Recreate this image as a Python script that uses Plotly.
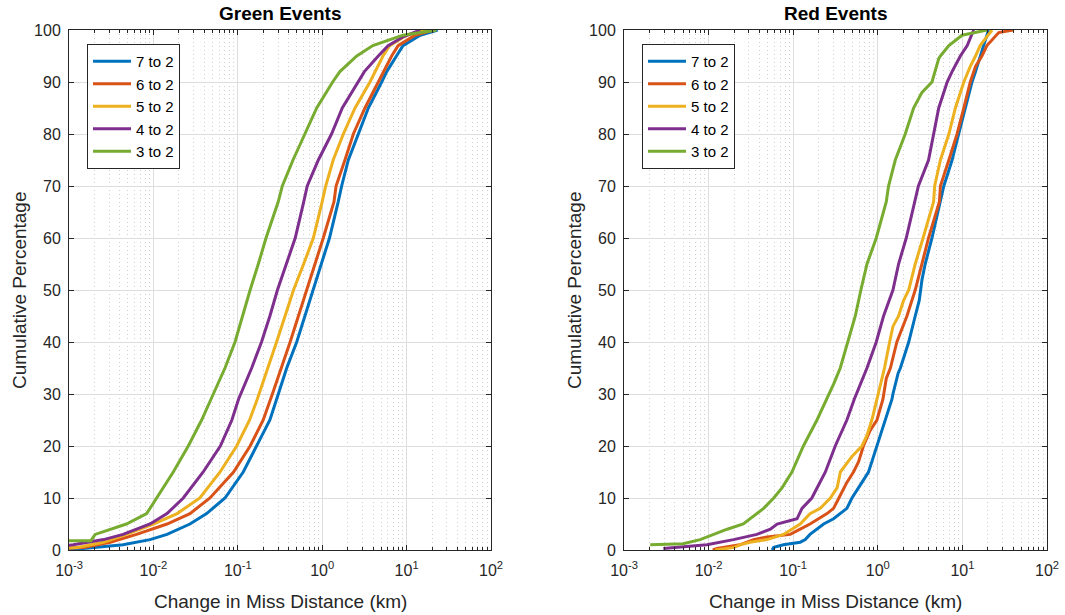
import plotly.graph_objects as go

# ---------------- data (km, cumulative %) ----------------
labels = ["7 to 2", "6 to 2", "5 to 2", "4 to 2", "3 to 2"]
colors = ["#0072BD", "#D95319", "#EDB120", "#7E2F8E", "#77AC30"]

# Green events
g72_x = [0.00079, 0.00148, 0.00437, 0.00912, 0.0145, 0.0271, 0.0427, 0.0705, 0.116, 0.167, 0.240,
         0.302, 0.380, 0.499, 0.625, 0.785, 0.986, 1.22, 1.55, 1.70, 2.04, 2.68, 3.52, 5.07, 5.81,
         7.59, 9.06, 14.5, 23.4]
g72_y = [0.2, 0.3, 1, 2, 3, 5, 7, 10, 15, 20, 25, 30, 35, 40, 45, 50, 55, 60, 67, 70, 75, 80, 85,
         90, 92, 95, 97, 99, 100]
g62_x = [0.00079, 0.00148, 0.00309, 0.00631, 0.0145, 0.0271, 0.0468, 0.0891, 0.140, 0.200, 0.257,
         0.417, 0.655, 1.03, 1.38, 1.46, 1.86, 2.34, 3.21, 4.62, 6.65, 7.94, 12.6, 20.9]
g62_y = [0.3, 0.5, 1.5, 3, 5, 7, 10, 15, 20, 25, 30, 40, 50, 60, 67, 70, 75, 80, 85, 90, 95, 97,
         99, 100]
g52_x = [0.00079, 0.00126, 0.00257, 0.00479, 0.010, 0.0191, 0.0355, 0.0617, 0.097, 0.138, 0.170,
         0.229, 0.288, 0.363, 0.457, 0.603, 0.785, 1.0, 1.10, 1.35, 1.78, 2.45, 3.68, 5.25, 6.31,
         10.0, 17.4]
g52_y = [0.3, 0.5, 1.5, 3, 5, 7, 10, 15, 20, 25, 29, 35, 40, 45, 50, 55, 60, 67, 70, 75, 80, 85,
         90, 95, 97, 99, 100]
g42_x = [0.00079, 0.00112, 0.00257, 0.00437, 0.00912, 0.0145, 0.0226, 0.0389, 0.0621, 0.0851,
         0.102, 0.146, 0.191, 0.240, 0.295, 0.380, 0.479, 0.605, 0.665, 0.90, 1.29, 1.73, 2.69,
         3.16, 4.62, 6.03, 9.12, 14.5]
g42_y = [0.8, 1, 2, 3, 5, 7, 10, 15, 20, 25, 29, 35, 40, 45, 50, 55, 60, 67, 70, 75, 80, 85, 90,
         92, 95, 97, 98.7, 100]
g32_x = [0.00079, 0.00182, 0.00204, 0.00309, 0.00479, 0.00832, 0.011, 0.0172, 0.0259, 0.0373,
         0.0513, 0.0705, 0.0927, 0.113, 0.140, 0.175, 0.216, 0.302, 0.337, 0.451, 0.625, 0.861,
         1.33, 1.62, 2.57, 3.98, 9.06, 22.7]
g32_y = [1.8, 1.8, 3, 4, 5, 7, 10, 15, 20, 25, 30, 35, 40, 45, 50, 55, 60, 67, 70, 75, 80, 85, 90,
         92, 95, 97, 99, 100]

# Red events
r72_x = [0.0562, 0.0589, 0.0767, 0.121, 0.139, 0.158, 0.229, 0.300, 0.431, 0.495, 0.650, 0.776,
         0.851, 0.977, 1.07, 1.23, 1.47, 1.51, 1.74, 1.85, 2.32, 2.77, 3.09, 3.33, 3.63, 4.37,
         5.50, 6.03, 6.61, 7.55, 9.04, 10.8, 13.0, 14.3, 16.2, 17.8, 20.4]
r72_y = [0, 0.5, 1, 1.5, 2, 3, 5, 6, 8, 10, 13, 15, 17, 20, 22, 25, 29, 30, 34, 35, 40, 45, 48,
         52, 55, 60, 67, 70, 72, 75, 80, 85, 90, 92, 95, 97, 100]
r62_x = [0.0112, 0.0126, 0.0234, 0.0339, 0.049, 0.0923, 0.121, 0.158, 0.251, 0.300, 0.347, 0.431,
         0.516, 0.593, 0.676, 0.813, 0.977, 1.15, 1.26, 1.41, 1.68, 2.21, 2.77, 3.33, 3.98, 5.35,
         5.50, 6.92, 8.65, 10.4, 12.4, 14.3, 17.0, 19.5, 23.4, 26.9, 39.8]
r62_y = [0, 0.3, 1, 2, 2.5, 3, 4, 5, 7, 8, 10, 13, 15, 17, 20, 23, 25, 29, 33, 35, 40, 45, 50, 55,
         60, 67, 70, 75, 80, 85, 90, 93, 95, 97, 98.5, 99.5, 100]
r52_x = [0.0120, 0.0200, 0.0234, 0.0309, 0.049, 0.0767, 0.121, 0.158, 0.209, 0.275, 0.331, 0.361,
         0.495, 0.650, 0.741, 0.851, 0.977, 1.20, 1.38, 1.51, 1.76, 2.02, 2.32, 2.77, 3.43, 4.57,
         4.70, 5.50, 6.92, 8.26, 10.4, 12.4, 14.3, 16.2, 22.4]
r52_y = [0, 0.5, 1, 1.5, 2, 3, 5, 7, 8, 10, 12, 15, 18, 20, 22, 25, 29, 35, 40, 43, 45, 48, 50, 55,
         60, 67, 70, 75, 80, 85, 90, 93, 95, 97, 100]
r42_x = [0.00292, 0.00955, 0.0197, 0.0372, 0.0537, 0.0646, 0.111, 0.127, 0.166, 0.240, 0.314,
         0.431, 0.527, 0.745, 0.959, 1.17, 1.51, 1.76, 2.17, 2.75, 3.02, 3.98, 4.57, 5.25, 6.61,
         7.55, 9.46, 11.4, 13.6]
r42_y = [0.3, 1, 2, 3, 4, 5, 6, 8, 10, 15, 20, 25, 29, 35, 40, 45, 50, 55, 60, 67, 70, 75, 80, 85,
         90, 92, 95, 97, 100]
r32_x = [0.00204, 0.0050, 0.00794, 0.0115, 0.0166, 0.0257, 0.0309, 0.0447, 0.0589, 0.0741, 0.0966,
         0.132, 0.191, 0.251, 0.302, 0.360, 0.440, 0.542, 0.631, 0.745, 0.959, 1.26, 1.34, 1.61,
         2.11, 2.65, 3.33, 4.37, 5.25, 5.50, 6.92, 8.26, 9.91, 19.5]
r32_y = [1, 1.2, 2, 3, 4, 5, 6, 8, 10, 12, 15, 20, 25, 29, 32, 35, 40, 45, 50, 55, 60, 67, 70, 75,
         80, 85, 88, 90, 94.5, 95, 97, 98, 99, 100]

green_x = [g72_x, g62_x, g52_x, g42_x, g32_x]
green_y = [g72_y, g62_y, g52_y, g42_y, g32_y]
red_x = [r72_x, r62_x, r52_x, r42_x, r32_x]
red_y = [r72_y, r62_y, r52_y, r42_y, r32_y]

x_ticks = [0.001, 0.01, 0.1, 1, 10, 100]
x_ticktext = ["10<sup>-3</sup>", "10<sup>-2</sup>", "10<sup>-1</sup>", "10<sup>0</sup>",
              "10<sup>1</sup>", "10<sup>2</sup>"]
y_ticks = [0, 10, 20, 30, 40, 50, 60, 70, 80, 90, 100]
minor_vals = [m * d for d in [0.001, 0.01, 0.1, 1, 10] for m in range(2, 10)]

W, H = 1065, 615
FONT = "Liberation Sans, Arial, Helvetica, sans-serif"
AX = "#262626"

fig = go.Figure()
for i in range(5):
    fig.add_trace(go.Scatter(x=green_x[i], y=green_y[i], mode="lines", name=labels[i],
                             line=dict(color=colors[i], width=3), xaxis="x", yaxis="y",
                             legend="legend"))
for i in range(5):
    fig.add_trace(go.Scatter(x=red_x[i], y=red_y[i], mode="lines", name=labels[i],
                             line=dict(color=colors[i], width=3), xaxis="x2", yaxis="y2",
                             legend="legend2"))

left_dom = [69 / W, 491 / W]
right_dom = [624 / W, 1047 / W]
y_dom = [1 - 550 / H, 1 - 30 / H]


def xaxis(dom, anchor):
    return dict(type="log", range=[-3, 2], domain=dom, anchor=anchor,
                tickmode="array", tickvals=x_ticks, ticktext=x_ticktext,
                ticks="inside", ticklen=5, tickcolor=AX, tickwidth=1,
                showline=True, linecolor=AX, linewidth=1, mirror="ticks",
                showgrid=True, gridcolor="#dedede", gridwidth=1, zeroline=False,
                tickfont=dict(family=FONT, size=16, color=AX),
                ticklabelstandoff=6, automargin=False,
                minor=dict(tickmode="array", tickvals=minor_vals, ticks="inside", ticklen=3,
                           tickcolor=AX, showgrid=True, gridcolor="#cfcfcf",
                           griddash="1px,3px", gridwidth=1))


def yaxis(anchor):
    return dict(range=[0, 100], domain=y_dom, anchor=anchor,
                tickmode="array", tickvals=y_ticks,
                ticks="inside", ticklen=5, tickcolor=AX, tickwidth=1,
                showline=True, linecolor=AX, linewidth=1, mirror="ticks",
                showgrid=True, gridcolor="#dedede", gridwidth=1, zeroline=False,
                tickfont=dict(family=FONT, size=16, color=AX),
                ticklabelstandoff=4, automargin=False)


legend_common = dict(xanchor="left", yanchor="top", bgcolor="white", bordercolor=AX,
                     borderwidth=1, font=dict(family=FONT, size=15, color="#000000"),
                     traceorder="normal", tracegroupgap=0, itemwidth=38)

fig.update_layout(
    width=W, height=H, margin=dict(l=0, r=0, t=0, b=0, pad=0, autoexpand=False),
    paper_bgcolor="white", plot_bgcolor="white",
    xaxis=xaxis(left_dom, "y"), yaxis=yaxis("x"),
    xaxis2=xaxis(right_dom, "y2"), yaxis2=yaxis("x2"),
    legend=dict(x=87 / W, y=1 - 44 / H, **legend_common),
    legend2=dict(x=642 / W, y=1 - 44 / H, **legend_common),
    font=dict(family=FONT, color=AX),
)

titles = [("Green Events", (69 + 491) / 2 / W), ("Red Events", (624 + 1047) / 2 / W)]
for t, xc in titles:
    fig.add_annotation(text="<b>%s</b>" % t, x=xc, y=1 - 14 / H, xref="paper", yref="paper",
                       xanchor="center", yanchor="middle", showarrow=False,
                       font=dict(family=FONT, size=19, color="#000000"))
for xc in [(69 + 491) / 2 / W, (624 + 1047) / 2 / W]:
    fig.add_annotation(text="Change in Miss Distance (km)", x=xc, y=1 - 601 / H,
                       xref="paper", yref="paper", xanchor="center", yanchor="middle",
                       showarrow=False, font=dict(family=FONT, size=19, color=AX))
for xc in [19 / W, 574 / W]:
    fig.add_annotation(text="Cumulative Percentage", x=xc, y=1 - 290 / H, textangle=-90,
                       xref="paper", yref="paper", xanchor="center", yanchor="middle",
                       showarrow=False, font=dict(family=FONT, size=19, color=AX))

fig.write_html("out.html")
